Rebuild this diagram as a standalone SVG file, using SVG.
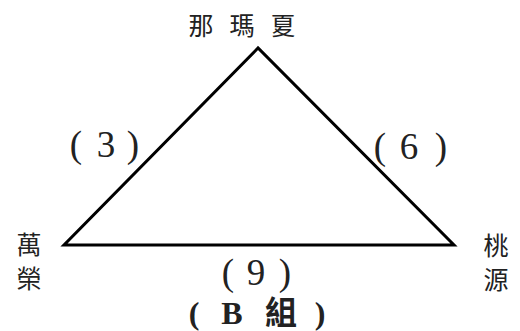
<svg xmlns="http://www.w3.org/2000/svg" width="520" height="331" viewBox="0 0 520 331">
<style>
.t{fill:#222;text-anchor:middle}
.n{font-size:25px;font-family:"Noto Sans CJK TC",sans-serif}
.l{font-size:37px;font-family:"Liberation Serif","Times New Roman","DejaVu Serif",serif}
.c{font-size:32px;font-weight:bold;font-family:"Liberation Serif","Times New Roman","Noto Sans CJK TC",serif}
.edge{fill:none;stroke:#000;stroke-width:3;stroke-linejoin:miter}
</style>
<rect width="520" height="331" fill="#fff"/>
<g id="connectors">
<path class="edge" d="M258,48 L64,245 L454,245 Z"/>
</g>
<g id="node-top"><text class="t n" y="35"><tspan x="201">那</tspan><tspan x="242">瑪</tspan><tspan x="283">夏</tspan></text></g>
<g id="node-left"><text class="t n" x="29" y="254">萬</text><text class="t n" x="29" y="288">榮</text></g>
<g id="node-right"><text class="t n" x="496" y="255">桃</text><text class="t n" x="496" y="289">源</text></g>
<g id="label-3"><text class="t l" y="157"><tspan x="76">(</tspan><tspan x="106">3</tspan><tspan x="133">)</tspan></text></g>
<g id="label-6"><text class="t l" y="159"><tspan x="380">(</tspan><tspan x="409">6</tspan><tspan x="441">)</tspan></text></g>
<g id="label-9"><text class="t l" y="285"><tspan x="228">(</tspan><tspan x="256">9</tspan><tspan x="285">)</tspan></text></g>
<g id="caption"><text class="t c" y="324"><tspan x="194">(</tspan><tspan x="232">B</tspan><tspan x="281">組</tspan><tspan x="320">)</tspan></text></g>
</svg>
